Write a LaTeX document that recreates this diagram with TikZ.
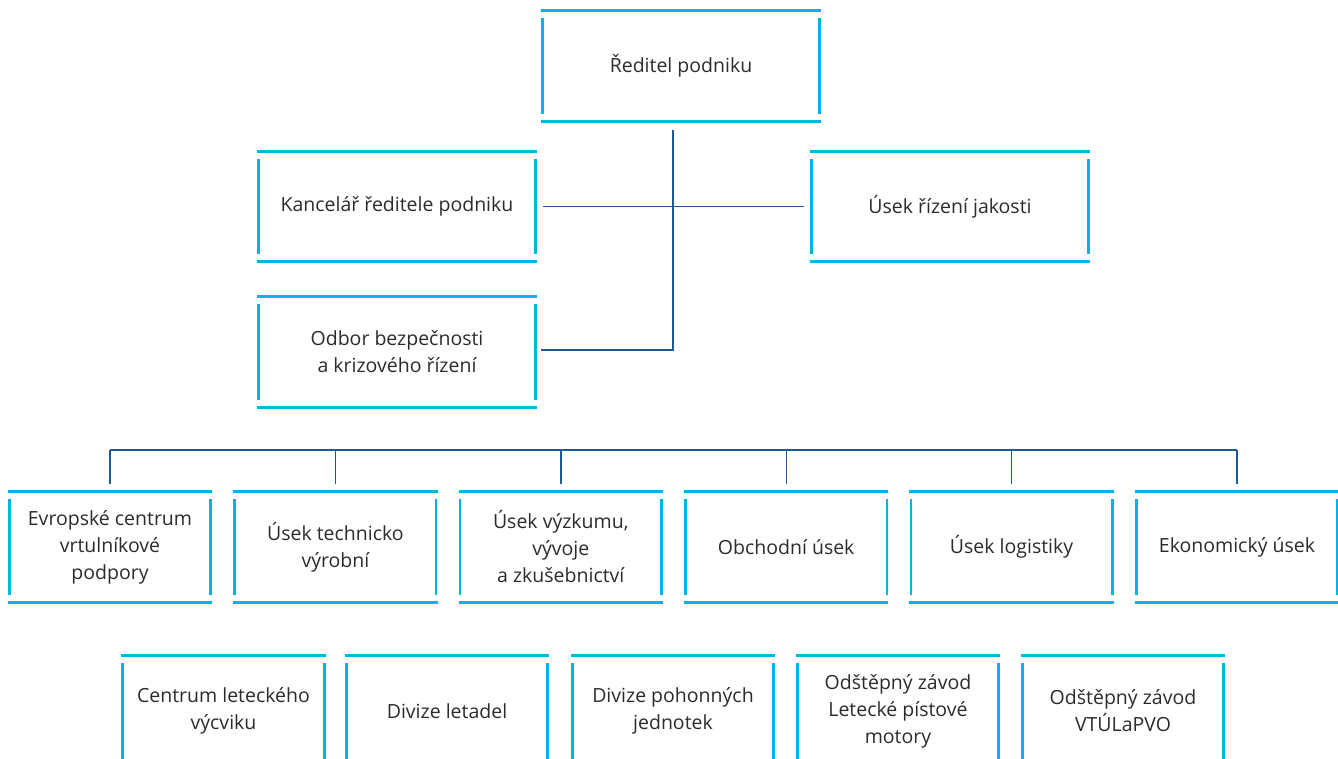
\documentclass[tikz,border=0pt]{standalone}
\usepackage{fontspec}
\setmainfont{Open Sans}
\definecolor{boxcyan}{HTML}{00B5E2}
\definecolor{linkblue}{HTML}{1F5A96}
\definecolor{textgray}{HTML}{2B2B2B}
\tikzset{
  unit/.style={shape=rectangle,minimum width=#1,minimum height=110pt,inner sep=0pt,
    align=center,text=textgray,font=\fontsize{19.5}{27}\selectfont},
  unit/.default=204pt,
  rim/.style={draw=boxcyan,line width=2.7pt},
  link/.style={draw=linkblue,line width=1.4pt}
}

\begin{document}
\begin{tikzpicture}[x=1pt,y=-1pt]
\useasboundingbox (0,0) rectangle (1338,758);
\clip (0,0) rectangle (1338,758);

% management
\node[unit=280pt] (dir) at (681,66) {Ředitel podniku};
\node[unit=280pt] (kanc) at (397,206.5) {Kancelář ředitele podniku};
\node[unit=280pt] (jak) at (950,206.5) {Úsek řízení jakosti};
\node[unit=280pt] (odbor) at (397,352) {Odbor bezpečnosti\\a krizového řízení};

% sections
\node[unit] (u1) at (110,547) {Evropské centrum\\vrtulníkové\\podpory};
\node[unit] (u2) at (335.4,547) {Úsek technicko\\výrobní};
\node[unit] (u3) at (560.8,547) {Úsek výzkumu,\\vývoje\\a zkušebnictví};
\node[unit] (u4) at (786.2,547) {Obchodní úsek};
\node[unit] (u5) at (1011.6,547) {Úsek logistiky};
\node[unit] (u6) at (1237,547) {Ekonomický úsek};

% divisions
\node[unit] (d1) at (223.5,711) {Centrum leteckého\\výcviku};
\node[unit] (d2) at (447,711) {Divize letadel};
\node[unit] (d3) at (673,711) {Divize pohonných\\jednotek};
\node[unit] (d4) at (898,711) {Odštěpný závod\\Letecké pístové\\motory};
\node[unit] (d5) at (1123,711) {Odštěpný závod\\VTÚLaPVO};

% box rims
\foreach \n in {dir,kanc,jak,odbor,u1,u2,u3,u4,u5,u6,d1,d2,d3,d4,d5}{
  \draw[rim] (\n.north west) -- (\n.north east);
  \draw[rim] (\n.south west) -- (\n.south east);
  \draw[rim] ([shift={(1.5pt,-7.5pt)}]\n.north west) -- ([shift={(1.5pt,7.5pt)}]\n.south west);
  \draw[rim] ([shift={(-1.5pt,-7.5pt)}]\n.north east) -- ([shift={(-1.5pt,7.5pt)}]\n.south east);
}

% connectors
\coordinate (trunk) at ([shift={(-8pt,-9pt)}]dir.south);
\coordinate (bus) at (0,450);
\draw[link] (trunk) |- ([xshift=4pt,yshift=2pt]odbor.east);
\draw[link] ([xshift=6pt]kanc.east) -- ([xshift=-6pt]jak.west);
\draw[link] (u1.north |- bus) -- (u6.north |- bus);
\foreach \i in {1,...,6}
  \draw[link] ([yshift=8pt]u\i.north) -- (u\i.north |- bus);
\end{tikzpicture}
\end{document}
